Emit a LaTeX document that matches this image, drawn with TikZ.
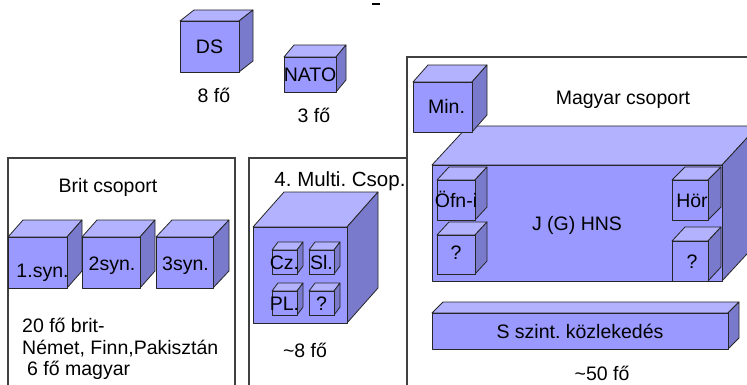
\documentclass[tikz,border=0pt]{standalone}
\usepackage{fontspec}
\setmainfont{Liberation Sans}
\usetikzlibrary{calc}
\frenchspacing
\definecolor{cubefront}{RGB}{153,153,255}
\definecolor{cubetop}{RGB}{178,178,255}
\definecolor{cubeside}{RGB}{122,122,204}
\tikzset{
	lbl/.style={inner sep=0pt, font=\fontsize{19.5}{22}\selectfont, text height=14pt, text depth=0pt},
	frame/.style={line width=1.2pt, draw=black!75},
	face/.style={draw=black!85, line width=0.8pt, line join=round},
}
% [text options]{name}{x1}{y1}{x2}{y2}{dx}{dy}{text}
\newcommand{\kocka}[9][]{%
	\draw[face, fill=cubetop] (#3,#4) -- (#3+#7,#4-#8) -- (#5+#7,#4-#8) -- (#5,#4) -- cycle;
	\draw[face, fill=cubeside] (#5,#4) -- (#5+#7,#4-#8) -- (#5+#7,#6-#8) -- (#5,#6) -- cycle;
	\draw[face, fill=cubefront] (#3,#4) rectangle (#5,#6);
	\node[lbl,#1] (#2) at ({(#3+#5)/2},{(#4+#6)/2}) {#9};
}

\begin{document}
\begin{tikzpicture}[x=1pt,y=-1pt]
		%%%%% START %%%%%
		\useasboundingbox (0,0) rectangle (747,385);
		\draw[line width=1.3pt] (372,4) -- (380,4);
		
		\kocka{ds}{180}{21}{239}{72}{14}{11}{DS}
		\node[lbl] (dsfo) at (214,96) {8 fő};
		\kocka{nato}{284}{57}{336}{92}{10}{12}{NATO}
		\node[lbl] (natofo) at (314,116) {3 fő};
		
		% Brit
		\draw[frame] (8,385) -- (8,158) -- (235,158) -- (235,385);
		\node[lbl] (brit) at (108,185) {Brit csoport};
		\kocka[xshift=5pt,yshift=-8pt]{syn1}{8}{237}{67}{288}{15}{17}{1.syn.}
		\kocka[xshift=1pt,yshift=-1pt]{syn2}{82}{237}{140}{288}{15}{17}{2syn.}
		\kocka[xshift=1pt,yshift=-1pt]{syn3}{156}{237}{213}{288}{16}{17}{3syn.}
		\node[lbl, anchor=west] (brit1) at (22,325) {20 fő brit-};
		\node[lbl, anchor=west] (brit2) at (22,347) {Német, Finn,Pakisztán};
		\node[lbl, anchor=west] (brit3) at (27,368) {6 fő magyar};
		
		% Multi
		\draw[frame] (249,385) -- (249,158) -- (407,158);
		\node[lbl, font=\fontsize{20.5}{23}\selectfont] (multi) at (340,179) {4. Multi. Csop.};
		\kocka{mcs}{253}{227}{347}{323}{31}{35}{}
		\kocka{cz}{272}{250}{297}{274}{6}{8}{Cz.}
		\kocka{sl}{309}{250}{334}{274}{6}{8}{Sl.}
		\kocka{pl}{272}{291}{297}{315}{6}{8}{PL.}
		\kocka{mq}{309}{291}{334}{315}{6}{8}{?}
		\node[lbl] (multifo) at (305,350) {\textasciitilde 8 fő};
		
		% Magyar
		\draw[frame] (407,385) -- (407,57) -- (747,57);
		\node[lbl] (magyar) at (623,98) {Magyar csoport};
		\kocka{hns}{432}{165}{722}{281}{36}{39}{J (G) HNS}
		\kocka{ofn}{437}{180}{475}{220}{12}{13}{Öfn-i}
		\kocka[yshift=2pt]{lq}{437}{235}{475}{274}{12}{13}{?}
		\kocka[xshift=2pt]{hor}{672}{180}{708}{220}{13}{13}{Hör}
		\kocka[xshift=2pt]{rq}{672}{241}{708}{281}{13}{14}{?}
		\kocka[xshift=4pt]{min}{413}{82}{472}{132}{15}{17}{Min.}
		\kocka{szint}{432}{313}{728}{349}{11}{11}{S szint. közlekedés}
		\node[lbl] (magyarfo) at (602,373) {\textasciitilde 50 fő};
		
		%%%%% END %%%%%
\end{tikzpicture}
\end{document}
